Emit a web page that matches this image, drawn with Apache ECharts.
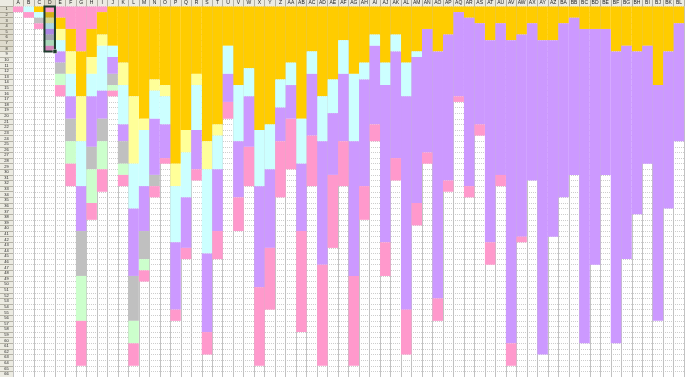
<!DOCTYPE html>
<html>
<head>
<meta charset="utf-8">
<script src="https://cdn.jsdelivr.net/npm/echarts@6/dist/echarts.min.js"></script>
<style>
html, body { margin: 0; padding: 0; background: #fff; }
#chart { width: 685px; height: 377px; }
</style>
</head>
<body>
<div id="chart"></div>
<script>
// column headers of the sheet, A .. BL
const colLabels = ['A','B','C','D','E','F','G','H','I','J','K','L','M','N','O','P','Q','R','S','T','U','V','W','X','Y','Z',
  'AA','AB','AC','AD','AE','AF','AG','AH','AI','AJ','AK','AL','AM','AN','AO','AP','AQ','AR','AS','AT','AU','AV','AW','AX','AY','AZ',
  'BA','BB','BC','BD','BE','BF','BG','BH','BI','BJ','BK','BL']
const rowCount = 66
const rowLabels = Array.from({ length: rowCount }, (_, i) => String(i + 1))

// number of filled cells per column, top to bottom, one array per fill colour
const pinkTop =    [1,0,0,1,2,4,8,4,1,0,0,0,0,0,0,0,0,0,0,0,0,0,0,0,0,0,0,0,0,0,0,0,0,0,0,0,0,0,0,0,0,0,0,0,0,0,0,0,0,0,0,0,0,0,0,0,0,0,0,0,0,0,0,0]
const orange =     [0,0,1,1,2,4,8,5,4,7,10,16,20,13,14,28,22,12,24,21,7,14,11,22,21,13,10,20,8,16,13,6,12,10,5,10,5,10,8,4,8,5,1,2,3,6,3,6,5,3,6,6,3,2,4,4,4,8,7,8,7,14,8,3]
const yellow =     [0,0,0,1,2,4,8,3,2,0,4,12,2,2,2,4,4,2,5,2,0,0,0,0,0,0,0,0,0,0,0,0,0,0,0,0,0,0,0,0,0,0,0,0,0,0,0,0,0,0,0,0,0,0,0,0,0,0,0,0,0,0,0,0]
const cyan =       [0,1,1,1,2,4,8,4,8,2,7,8,10,5,5,10,8,8,15,6,5,10,5,10,8,5,4,8,4,8,6,6,12,3,2,4,3,6,1,0,0,0,0,0,0,0,0,0,0,0,0,0,0,0,0,0,0,0,0,0,0,0,0,0]
const violet =     [0,0,0,1,2,4,8,9,5,3,3,12,8,10,6,12,9,7,14,11,5,10,9,18,14,6,6,12,11,22,11,12,24,19,14,28,19,38,26,22,44,26,15,30,18,36,27,54,36,28,56,35,31,28,56,42,26,52,38,29,21,42,28,21]
const grey =       [0,0,1,1,2,4,8,4,4,2,4,8,5,2,0,0,0,0,0,0,0,0,0,0,0,0,0,0,0,0,0,0,0,0,0,0,0,0,0,0,0,0,0,0,0,0,0,0,0,0,0,0,0,0,0,0,0,0,0,0,0,0,0,0]
const green =      [0,0,0,1,2,4,8,6,5,1,2,4,2,0,0,0,0,0,0,0,0,0,0,0,0,0,0,0,0,0,0,0,0,0,0,0,0,0,0,0,0,0,0,0,0,0,0,0,0,0,0,0,0,0,0,0,0,0,0,0,0,0,0,0]
const pinkBottom = [0,1,1,1,2,4,8,3,4,1,2,4,2,2,1,2,2,2,4,5,3,6,7,14,11,10,9,18,9,18,13,8,16,6,3,6,4,8,4,2,4,2,1,2,2,4,2,4,1,0,0,0,0,0,0,0,0,0,0,0,0,0,0,0]

const layers = [
    { name: 'pinkTop', data: pinkTop, color: '#ff99cc' },
    { name: 'orange', data: orange, color: '#ffcc00' },
    { name: 'yellow', data: yellow, color: '#ffff99' },
    { name: 'cyan', data: cyan, color: '#ccffff' },
    { name: 'violet', data: violet, color: '#cc99ff' },
    { name: 'grey', data: grey, color: '#c0c0c0' },
    { name: 'green', data: green, color: '#ccffcc' },
    { name: 'pinkBottom', data: pinkBottom, color: '#ff99cc' }
]

const headerColor = '#ecebe2'
const headerLine = '#b4b2a6'
const rowH = 5.625

const chart = echarts.init(document.getElementById('chart'))

chart.setOption({
    animation: false,
    backgroundColor: headerColor,
    grid: {
        left: 13, top: 6.5, width: 672, height: rowCount * rowH,
        show: true, backgroundColor: '#fff', borderWidth: 0
    },
    xAxis: {
        type: 'category',
        data: colLabels,
        position: 'top',
        axisLine: { show: false },
        axisTick: { show: true, interval: 0, length: 6.5, lineStyle: { color: headerLine } },
        axisLabel: { interval: 0, margin: 1, fontSize: 5, color: '#222', fontFamily: 'Liberation Sans' },
        splitLine: { show: true, interval: 0, lineStyle: { color: '#c2c2c2', width: 1 } }
    },
    yAxis: [
        {
            type: 'value', inverse: true, min: 0, max: rowCount, interval: 1, position: 'right',
            axisLine: { show: false }, axisTick: { show: false }, axisLabel: { show: false },
            splitLine: { show: true, lineStyle: { color: '#cdcdcd', width: 1, type: [1, 1] } }
        },
        {
            type: 'category', inverse: true, data: rowLabels, position: 'left',
            axisLine: { show: false },
            axisTick: { show: true, interval: 0, length: 13, lineStyle: { color: headerLine } },
            axisLabel: { interval: 0, margin: 6.5, align: 'center', fontSize: 4, color: '#222', fontFamily: 'Liberation Sans' },
            splitLine: { show: false }
        }
    ],
    series: layers.map(l => ({
        name: l.name,
        type: 'bar',
        stack: 'cells',
        yAxisIndex: 0,
        barCategoryGap: '0%',
        barWidth: '100%',
        data: l.data,
        itemStyle: { color: l.color, borderWidth: 0 },
        emphasis: { disabled: true }
    }))
})

// selection D1:D8 of the sheet
const a = chart.convertToPixel({ xAxisIndex: 0, yAxisIndex: 0 }, [3, 0])
const b = chart.convertToPixel({ xAxisIndex: 0, yAxisIndex: 0 }, [4, 8])
const r2 = chart.convertToPixel({ xAxisIndex: 0, yAxisIndex: 0 }, [3, 1])
const bw = b[0] - a[0]
const x0 = a[0] - bw / 2
chart.setOption({
    graphic: [
        { type: 'rect', z: 50, shape: { x: x0, y: 0, width: bw, height: a[1] }, style: { fill: 'rgba(120,110,60,0.12)' } },
        { type: 'rect', z: 50, shape: { x: 0, y: a[1], width: 13, height: b[1] - a[1] }, style: { fill: 'rgba(120,110,60,0.12)' } },
        { type: 'rect', z: 50, shape: { x: x0, y: r2[1], width: bw, height: b[1] - r2[1] }, style: { fill: 'rgba(40,60,120,0.2)' } },
        { type: 'rect', z: 51, shape: { x: x0, y: a[1], width: bw, height: b[1] - a[1] }, style: { fill: 'none', stroke: '#1d3b2c', lineWidth: 2 } },
        { type: 'rect', z: 52, shape: { x: x0 + bw - 2, y: b[1] - 2, width: 4, height: 4 }, style: { fill: '#1d3b2c', stroke: '#fff', lineWidth: 0.5 } }
    ]
})
</script>
</body>
</html>
